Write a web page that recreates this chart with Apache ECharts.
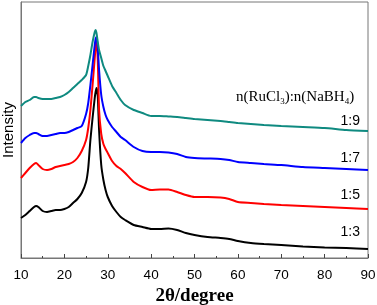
<!DOCTYPE html>
<html>
<head>
<meta charset="utf-8">
<script src="https://cdn.jsdelivr.net/npm/echarts@6/dist/echarts.min.js"></script>
<style>
  html, body { margin: 0; padding: 0; background: #fff; }
  #xrdChart { width: 377px; height: 305px; }
</style>
</head>
<body>
<div id="xrdChart"></div>
<script>
// 2θ positions (degree), shared by all patterns
var twoTheta = [10, 11, 12, 13, 13.5, 14, 15, 16, 17, 18,
  19, 20, 21, 22, 23, 24, 25, 25.5, 26, 26.5,
  27, 27.2, 27.4, 27.7, 28, 28.5, 29, 29.5, 30, 31,
  32, 33, 34, 36, 38, 40, 42, 44, 46, 48,
  50, 53, 56, 58, 60, 63, 66, 70, 75, 80,
  85, 90];

// intensities (arb. units, curves already offset like the figure)
var r13 = [40, 43, 47, 51, 52, 51, 47, 46, 47, 48,
  48, 49, 51, 55, 59, 65, 76, 90, 118, 140,
  160, 166, 170, 162, 128, 93, 78, 68, 61, 52,
  46, 41, 38, 33, 31, 29, 29, 29.5, 28, 25,
  23, 21, 20, 19, 17, 15, 14, 13, 11.5, 10.5,
  10, 9];
var r15 = [80, 85, 90, 94, 95, 93, 89, 88, 89, 91,
  92, 93, 94, 96, 100, 107, 118, 130, 148, 173,
  200, 211, 218, 198, 148, 124, 114, 109, 105, 97,
  92, 89, 85, 76, 71, 68, 68.5, 68.5, 66, 63,
  61, 61, 60.5, 59, 56, 55, 54, 53, 52, 51,
  50, 49];
var r17 = [115, 120, 123, 125, 125, 124, 122, 122, 123, 124,
  125, 125, 126, 128, 130, 132, 144, 155, 173, 193,
  213, 219, 221, 210, 188, 163, 151, 143, 138, 131,
  126, 121, 118, 111, 107, 106, 106, 105.5, 104, 101,
  100, 99.5, 99, 98, 96, 95, 94, 93, 91, 90,
  89, 88];
var r19 = [152, 156, 158, 161, 161, 160, 159, 159, 159, 160,
  161, 163, 166, 170, 174, 178, 183, 192, 203, 216,
  226, 228, 225, 216, 208, 200, 192, 187, 182, 172,
  165, 158, 153, 148, 145, 142, 142, 141.5, 141, 140,
  139, 138, 137, 136, 135, 134, 133, 132, 131, 130,
  128, 127];

var ratioNames = ["1:3", "1:5", "1:7", "1:9"];
var xTicks = [10, 20, 30, 40, 50, 60, 70, 80, 90];

function pairs(arr) {
  return twoTheta.map(function (t, i) { return [t, arr[i]]; });
}

var chart = echarts.init(document.getElementById("xrdChart"));

function lineSeries(name, arr, color) {
  return {
    name: name,
    type: "line",
    smooth: 0.2,
    symbol: "none",
    lineStyle: { color: color, width: 2 },
    data: pairs(arr)
  };
}

chart.setOption({
  animation: false,
  grid: {
    left: 21,
    right: 9,
    top: 2,
    bottom: 47,
    outerBoundsMode: "none",
    show: true,
    borderColor: "#777",
    borderWidth: 1
  },
  xAxis: {
    type: "value",
    min: 10,
    max: 90,
    interval: 10,
    name: "2θ/degree",
    nameLocation: "middle",
    nameGap: 21,
    nameTextStyle: {
      fontFamily: "Liberation Serif",
      fontWeight: "bold",
      fontSize: 19,
      color: "#000"
    },
    axisLine: { lineStyle: { color: "#777" } },
    axisTick: { inside: true, length: 4, lineStyle: { color: "#444" } },
    minorTick: { show: true, splitNumber: 2, length: 2, lineStyle: { color: "#444" } },
    axisLabel: {
      margin: 10,
      fontFamily: "Liberation Sans",
      fontSize: 13.5,
      color: "#000",
      formatter: function (v) { return xTicks.indexOf(v) >= 0 ? String(v) : ""; }
    },
    splitLine: { show: false }
  },
  yAxis: {
    type: "value",
    min: 0,
    max: 256,
    name: "Intensity",
    nameLocation: "middle",
    nameRotate: 90,
    nameGap: 5,
    nameTextStyle: {
      fontFamily: "Liberation Sans",
      fontSize: 15,
      color: "#000"
    },
    axisLine: { show: true, lineStyle: { color: "#777" } },
    axisTick: { show: false },
    axisLabel: { show: false },
    splitLine: { show: false }
  },
  series: [
    lineSeries(ratioNames[0], r13, "#000000"),
    lineSeries(ratioNames[1], r15, "#ff0000"),
    lineSeries(ratioNames[2], r17, "#0000ff"),
    lineSeries(ratioNames[3], r19, "#0f8a80")
  ],
  graphic: [
    {
      type: "text",
      left: 236,
      top: 90,
      style: {
        text: "n(RuCl{s|3}):n(NaBH{s|4})",
        fontFamily: "Liberation Serif",
        fontSize: 15,
        fill: "#000",
        rich: {
          s: { fontSize: 9, fontFamily: "Liberation Serif", padding: [9, 0, 0, 0] }
        }
      }
    },
    { type: "text", right: 17, top: 114, style: { text: ratioNames[3], fontFamily: "Liberation Sans", fontSize: 14, fill: "#000" } },
    { type: "text", right: 17, top: 151, style: { text: ratioNames[2], fontFamily: "Liberation Sans", fontSize: 14, fill: "#000" } },
    { type: "text", right: 17, top: 188, style: { text: ratioNames[1], fontFamily: "Liberation Sans", fontSize: 14, fill: "#000" } },
    { type: "text", right: 17, top: 225, style: { text: ratioNames[0], fontFamily: "Liberation Sans", fontSize: 14, fill: "#000" } }
  ]
});
</script>
</body>
</html>
